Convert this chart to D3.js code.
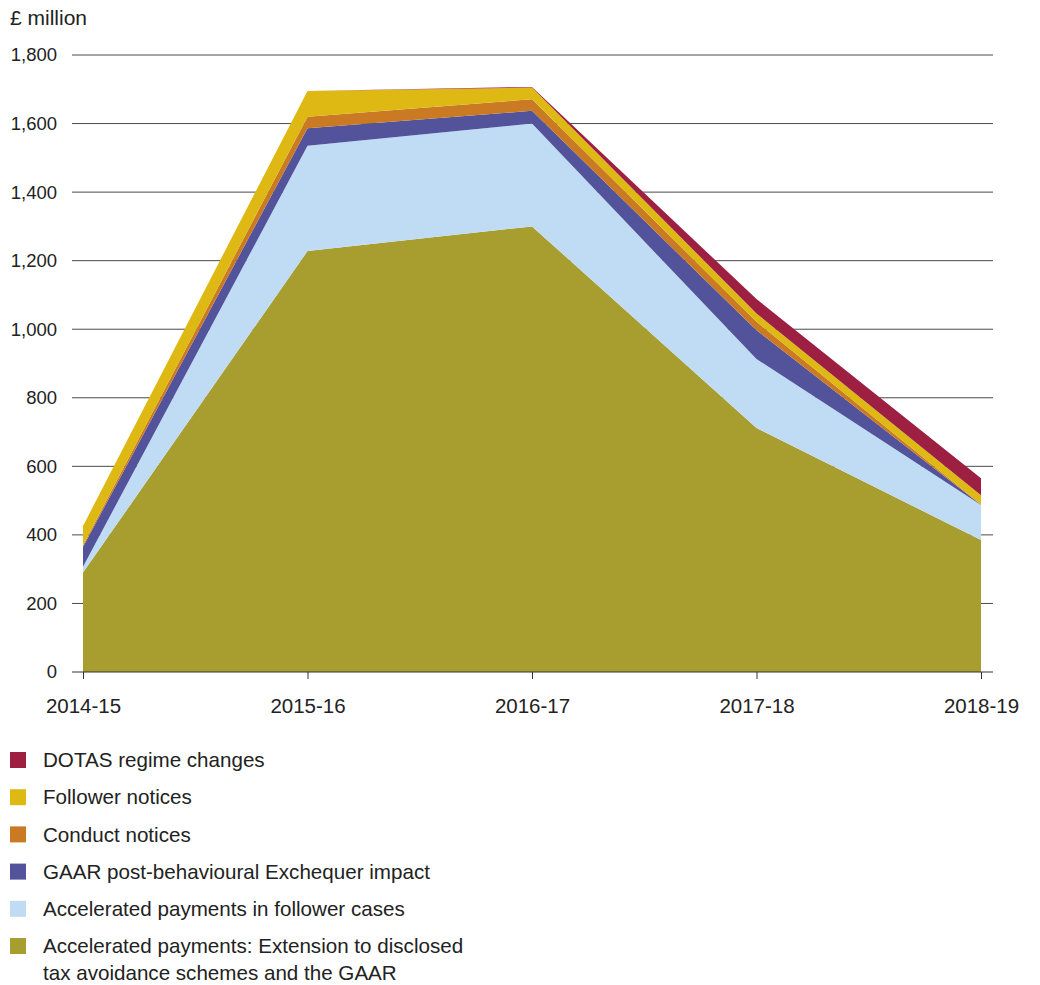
<!DOCTYPE html>
<html>
<head>
<meta charset="utf-8">
<script src="https://cdn.jsdelivr.net/npm/d3@7"></script>
<style>
  body { margin: 0; background: #fff; }
  svg { display: block; font-family: "Liberation Sans", Arial, sans-serif; }
</style>
</head>
<body>
<svg id="chart" width="1040" height="985"></svg>
<script>
// Years on the x axis
const years = ["2014-15", "2015-16", "2016-17", "2017-18", "2018-19"];

// Yield by measure, £ million (stacked bottom to top)
const acceleratedExtension = [290, 1228, 1300, 712, 385];
const acceleratedFollower  = [17, 307, 300, 201, 102];
const gaarImpact           = [58, 51, 37, 84, 1];
const conductNotices       = [5, 34, 34, 25, 1];
const followerNotices      = [56, 75, 34, 24, 27];
const dotasChanges         = [0, 0, 2, 42, 49];

const yTicks = [0, 200, 400, 600, 800, 1000, 1200, 1400, 1600, 1800];

const seriesNames = [
  "Accelerated payments: Extension to disclosed tax avoidance schemes and the GAAR",
  "Accelerated payments in follower cases",
  "GAAR post-behavioural Exchequer impact",
  "Conduct notices",
  "Follower notices",
  "DOTAS regime changes"
];
const seriesValues = [acceleratedExtension, acceleratedFollower, gaarImpact,
                      conductNotices, followerNotices, dotasChanges];
const seriesColors = ["#a89e30", "#c0dcf5", "#53539b", "#c97a22", "#dfb913", "#9d1f42"];

const rows = years.map((y, i) => {
  const r = { year: y };
  seriesNames.forEach((n, k) => r[n] = seriesValues[k][i]);
  return r;
});

const svg = d3.select("#chart");
const textColor = "#222";

const x = d3.scalePoint().domain(years).range([83, 981]);
const y = d3.scaleLinear().domain([0, 1800]).range([672, 55]);

// Gridlines
svg.append("g")
  .selectAll("line")
  .data(yTicks.filter(t => t > 0))
  .join("line")
  .attr("x1", 72).attr("x2", 993)
  .attr("y1", d => y(d)).attr("y2", d => y(d))
  .attr("stroke", "#4a4a4a").attr("stroke-width", 1);

// Stacked areas
const stack = d3.stack().keys(seriesNames);
const layers = stack(rows);
const area = d3.area()
  .x(d => x(d.data.year))
  .y0(d => y(d[0]))
  .y1(d => y(d[1]));

svg.append("g")
  .selectAll("path")
  .data(layers)
  .join("path")
  .attr("d", area)
  .attr("fill", (d, i) => seriesColors[i]);

// Y axis labels
svg.append("g")
  .selectAll("text")
  .data(yTicks)
  .join("text")
  .attr("x", 57).attr("y", d => y(d))
  .attr("dy", "0.35em")
  .attr("text-anchor", "end")
  .attr("font-size", 18.5)
  .attr("fill", textColor)
  .text(d => d3.format(",")(d));

// Baseline and x axis
const xAxis = d3.axisBottom(x).tickSize(7).tickPadding(19).tickSizeOuter(0);
const gx = svg.append("g").attr("transform", `translate(0,${y(0)})`).call(xAxis);
gx.select(".domain").remove();
gx.append("line").attr("x1", 72).attr("x2", 993).attr("stroke", "#333").attr("stroke-width", 1.2);
gx.selectAll(".tick line").attr("stroke", "#333");
gx.selectAll(".tick text")
  .attr("font-size", 20.5)
  .attr("font-family", "Liberation Sans, Arial, sans-serif")
  .attr("fill", textColor);

// Unit label
svg.append("text")
  .attr("x", 10).attr("y", 25)
  .attr("font-size", 21)
  .attr("fill", textColor)
  .text("£ million");

// Legend, top item first
const legendItems = seriesNames.map((n, i) => ({ name: n, color: seriesColors[i] })).reverse();
const legendLines = {
  "Accelerated payments: Extension to disclosed tax avoidance schemes and the GAAR":
    ["Accelerated payments: Extension to disclosed", "tax avoidance schemes and the GAAR"]
};
const lg = svg.append("g");
legendItems.forEach((item, i) => {
  const cy = 760 + i * 37.2;
  lg.append("rect")
    .attr("x", 10).attr("y", cy - 8)
    .attr("width", 16).attr("height", 16)
    .attr("fill", item.color);
  const lines = legendLines[item.name] || [item.name];
  const t = lg.append("text")
    .attr("x", 43).attr("y", cy)
    .attr("font-size", 20.6)
    .attr("fill", textColor);
  lines.forEach((ln, j) => {
    t.append("tspan").attr("x", 43).attr("dy", j === 0 ? "0.35em" : "1.31em").text(ln);
  });
});
</script>
</body>
</html>
